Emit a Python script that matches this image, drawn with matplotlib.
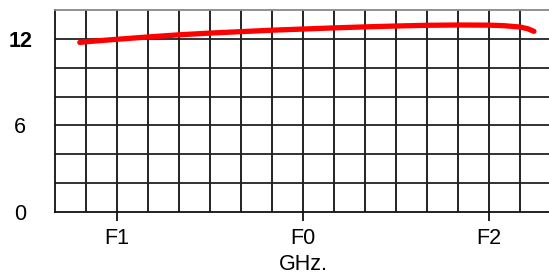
import matplotlib
matplotlib.use("Agg")
import matplotlib.pyplot as plt

plt.rcParams['font.family'] = ['Liberation Sans', 'DejaVu Sans']

# gain curve (x in grid divisions, y in dB)
freq = [0.8, 1.0, 2.0, 3.0, 4.0, 5.0, 6.0, 7.0, 8.0, 9.0, 10.0,
        11.0, 12.0, 13.0, 14.0, 14.5, 15.0, 15.25, 15.45]
gain = [11.75, 11.8, 11.97, 12.13, 12.28, 12.4, 12.5, 12.6, 12.68, 12.76, 12.83,
        12.89, 12.94, 12.96, 12.95, 12.91, 12.82, 12.7, 12.52]

xtick_pos = [2, 8, 14]
xtick_labels = ['F1', 'F0', 'F2']
ytick_pos = [0, 6, 12]
ytick_labels = ['0', '6', '12']

fig = plt.figure(figsize=(5.49, 2.74), dpi=100)
ax = fig.add_axes([55 / 549, 62 / 274, 16 * 31 / 549, 202 / 274])

ax.set_xlim(0, 16)
ax.set_ylim(0, 14)

# grid drawn by hand so every division is a line
for gx in range(1, 16):
    ax.axvline(gx, color='#111111', lw=1.3, zorder=1)
for gy in range(2, 14, 2):
    ax.axhline(gy, color='#222222', lw=1.3, zorder=1)

ax.plot(freq, gain, color='#ff0000', lw=3.8, solid_capstyle='round',
        solid_joinstyle='round', zorder=3)

for side in ['left', 'bottom']:
    ax.spines[side].set_color('#111111')
    ax.spines[side].set_linewidth(1.3)
ax.spines['top'].set_color('#888888')
ax.spines['top'].set_linewidth(1.3)
ax.spines['right'].set_visible(False)

ax.set_xticks(xtick_pos)
ax.set_xticklabels(xtick_labels, fontsize=15.5)
ax.tick_params(axis='x', length=6.5, width=1.3, color='#111111', pad=5)

ax.set_yticks(ytick_pos)
ax.set_yticklabels(ytick_labels, fontsize=15.5)
ax.tick_params(axis='y', length=0, pad=25)
for lbl in ax.get_yticklabels():
    lbl.set_horizontalalignment('center')
    if lbl.get_text() == '12':
        lbl.set_fontweight('bold')

ax.set_xlabel('GHz.', fontsize=15.5, labelpad=0)
ax.xaxis.set_label_coords(8 / 16, -0.21)
ax.xaxis.label.set_verticalalignment('top')

fig.savefig('out.png', dpi=100)
